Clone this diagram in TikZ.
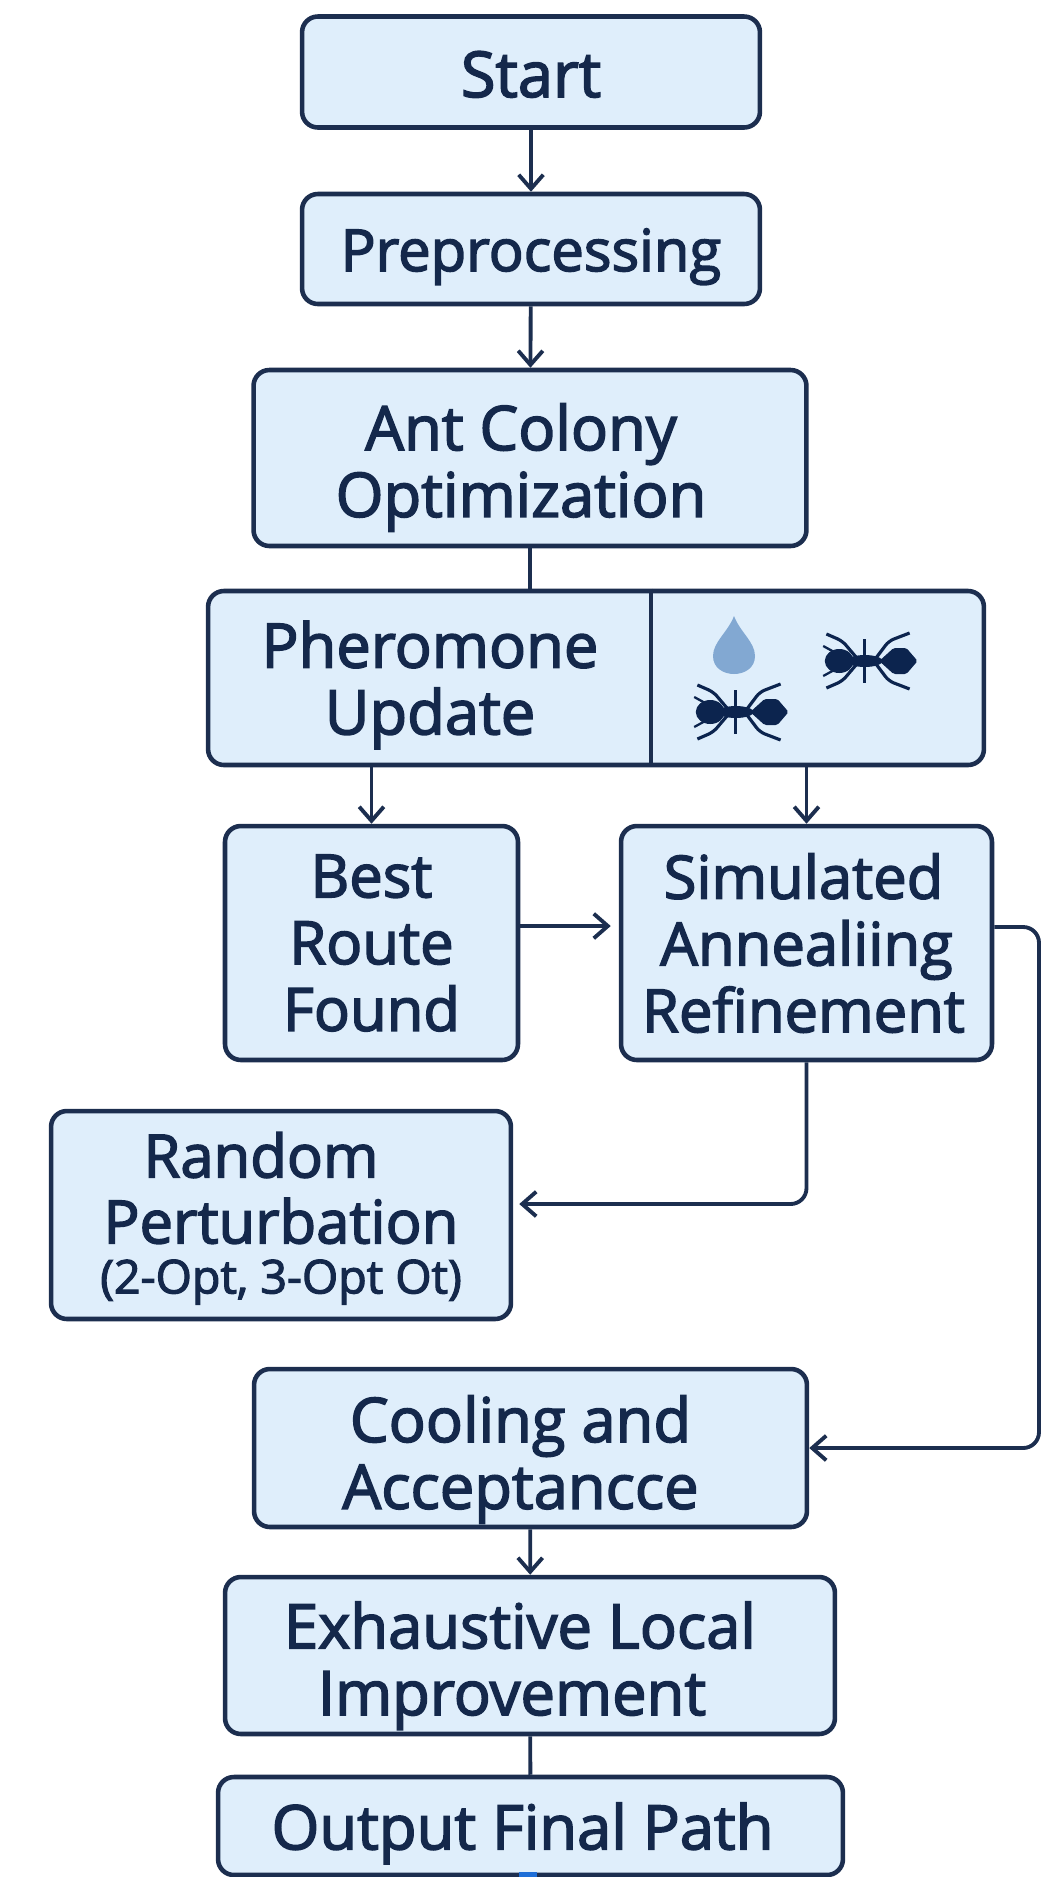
\documentclass[tikz,border=0pt]{standalone}
\usepackage{fontspec}
\setmainfont[FakeBold=2.5]{Open Sans}
\usepackage{tikz}
\usetikzlibrary{arrows.meta,positioning,calc}
\definecolor{boxFill}{RGB}{223,238,251}
\definecolor{boxLine}{RGB}{28,46,79}
\definecolor{boxText}{RGB}{20,40,75}
\definecolor{dropBlue}{RGB}{130,168,210}
\definecolor{antDark}{RGB}{12,36,78}
\definecolor{markBlue}{RGB}{30,110,215}
\newcommand{\topgap}[1]{\rule{0pt}{#1}}
\tikzset{
  flowbox/.style={draw=boxLine, fill=boxFill, line width=2.6pt, rounded corners=9pt, align=center, text=boxText,
    font=\fontsize{35}{38}\selectfont, inner sep=0pt},
  flowline/.style={draw=boxLine, line width=2.2pt, rounded corners=9pt},
  flowarrow/.style={flowline, -{Straight Barb[length=8pt,width=14pt,line width=2.2pt]}},
  pics/antpic/.style={code={
    \fill[antDark, rounded corners=1pt] (7,0) -- (16,-13) -- (24,-13) -- (31,0) -- (24,13) -- (16,13) -- cycle;
    \fill[antDark] (-2,0) ellipse (11 and 6);
    \fill[antDark] (-18,0) ellipse (9 and 12);
    \draw[antDark, line width=1.8pt] (-2,-22) -- (-2,22);
    \foreach \s in {1,-1} {
      \draw[antDark, line width=1.8pt, rounded corners=3pt] (-7,{-3*\s}) -- (-16,{-20*\s}) -- (-26,{-27*\s});
      \draw[antDark, line width=1.8pt, rounded corners=3pt] (5,{-3*\s}) -- (13,{-20*\s}) -- (26,{-28*\s});
      \draw[antDark, line width=1.3pt] (-20,{-8*\s}) -- (-28,{-15*\s});
    }
  }}
}
\begin{document}
\begin{tikzpicture}[x=0.02cm, y=-0.02cm]
  \useasboundingbox (0,0) rectangle (1064,1877);
  % upper part of the chain
  \node[flowbox, minimum width=9.16cm, minimum height=2.22cm, font=\fontsize{36}{38}\selectfont] (start) at (531,72) {\topgap{.8em}Start};
  \node[flowbox, minimum width=9.16cm, minimum height=2.2cm, font=\fontsize{33}{38}\selectfont] (prepro) at (531,249) {\topgap{1em}Preprocessing};
  \node[flowbox, minimum width=11.06cm, minimum height=3.52cm] (aco) at (530,458) {\topgap{1.07em}Ant Colony\hspace*{.36cm}\\Optimization\hspace*{.36cm}};
  % pheromone box with its icons
  \node[flowbox, minimum width=15.52cm, minimum height=3.48cm] (phero) at (596,678) {};
  \node[align=center, text=boxText, font=\fontsize{35}{38}\selectfont, inner sep=0pt] (pherotext) at (430,685) {Pheromone\\Update};
  \coordinate (split) at (651,678);
  \draw[boxLine, line width=1.8pt] (split |- phero.north) -- (split |- phero.south);
  \fill[dropBlue] (734,616) .. controls (740,632) and (755,642) .. (755,656)
    .. controls (755,680) and (713,680) .. (713,656) .. controls (713,642) and (728,632) .. (734,616) -- cycle;
  \pic[xscale=1.6] at (868,661) {antpic};
  \pic[xscale=1.6] at (739,712) {antpic};
  % middle row
  \node[flowbox, minimum width=5.86cm, minimum height=4.68cm, font=\fontsize{34}{38}\selectfont] (best) at (371.5,943) {Best\\Route\\Found};
  \node[flowbox, minimum width=7.42cm, minimum height=4.68cm, font=\fontsize{34}{38}\selectfont] (anneal) at (806.5,943) {Simulated\hspace*{.12cm}\\Annealiing\hspace*{.12cm}\\Refinement\hspace*{.12cm}};
  \node[flowbox, minimum width=9.2cm, minimum height=4.16cm, font=\fontsize{34}{37.5}\selectfont] (random) at (281,1215)
    {\topgap{.87em}Random\hspace*{.8cm}\\Perturbation\hspace*{.2cm}\\[-9pt]{\fontsize{26.5}{28}\selectfont (2-Opt, 3-Opt Ot)}};
  % lower part of the chain
  \node[flowbox, minimum width=11.06cm, minimum height=3.16cm] (cooling) at (530.5,1448) {\topgap{1.13em}Cooling and\hspace*{.4cm}\\Acceptancce\hspace*{.4cm}};
  \node[flowbox, minimum width=12.2cm, minimum height=3.14cm] (exhaust) at (530,1655.5) {\topgap{1.09em}Exhaustive Local\hspace*{.4cm}\\Improvement\hspace*{.72cm}};
  \node[flowbox, minimum width=12.5cm, minimum height=1.96cm] (output) at (530.5,1826) {\topgap{1em}Output Final Path\hspace*{.32cm}};
  \fill[markBlue] (519,1872) rectangle (537,1877);
  % connectors
  \draw[flowarrow] (start) -- (prepro);
  \draw[flowarrow] (prepro) -- (aco);
  \draw[flowline] (aco) -- (aco |- phero.north);
  \draw[flowarrow] (best |- phero.south) -- (best.north);
  \draw[flowarrow] (anneal |- phero.south) -- (anneal.north);
  \coordinate (bestout) at ($(best.east)+(0,-17)$);
  \coordinate (annealin) at ($(anneal.west)+(-8,-17)$);
  \draw[flowarrow] (bestout) -- (annealin);
  \coordinate (randomin) at ($(random.east)+(6,-11)$);
  \draw[flowarrow] (anneal.south) |- (randomin);
  \coordinate (annealout) at ($(anneal.east)+(0,-16)$);
  \coordinate (rightturn) at (1039,927);
  \draw[flowarrow] (annealout) -- (rightturn) |- (cooling.east);
  \draw[flowarrow] (cooling) -- (exhaust);
  \draw[flowline] (exhaust) -- (output);
\end{tikzpicture}
\end{document}
